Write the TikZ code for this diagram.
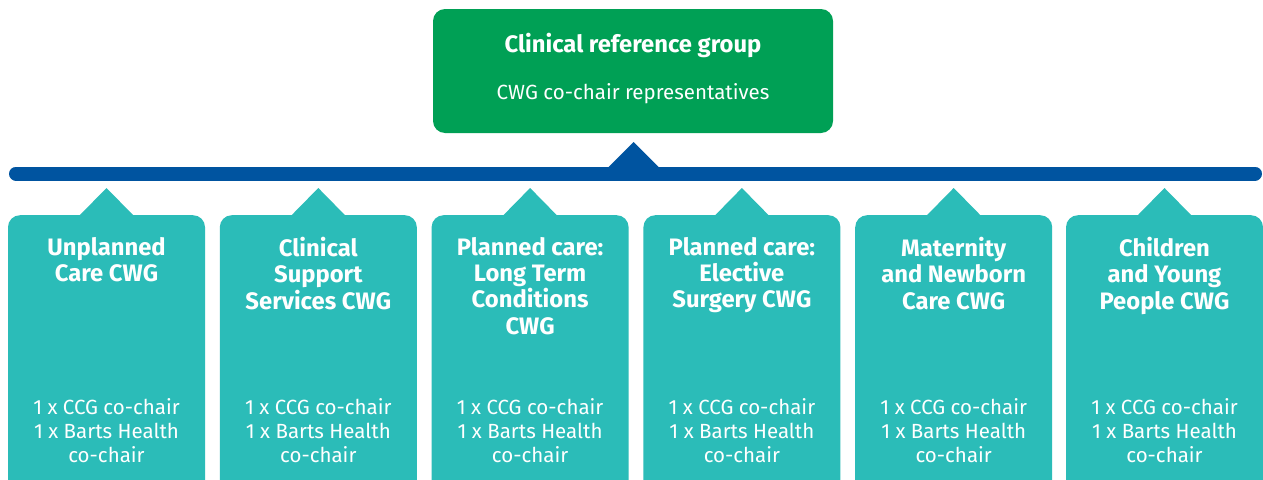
\documentclass[tikz,border=0pt]{standalone}
\usepackage{fontspec}
\setmainfont{Fira Sans}
\definecolor{crggreen}{HTML}{00A055}
\definecolor{barblue}{HTML}{0054A0}
\definecolor{cwgteal}{HTML}{2BBCB8}
\tikzset{
  crgbox/.style={fill=crggreen, rounded corners=12pt, minimum width=400pt, minimum height=124pt, inner sep=0pt},
  cwgbox/.style={fill=cwgteal, rounded corners=12pt, minimum width=197pt, minimum height=290pt, inner sep=0pt, anchor=north},
  ttl/.style={text=white, font=\bfseries\fontsize{23.8}{26.3}\selectfont, align=center, inner sep=0pt},
  body/.style={text=white, font=\fontsize{20.5}{24}\selectfont, align=center, inner sep=0pt},
  cwgtitle/.style={ttl, anchor=north},
  cwgbody/.style={body, anchor=south},
}
\begin{document}
\begin{tikzpicture}[x=1pt,y=-1pt]
\clip (0,0) rectangle (1263,479);
\fill[white] (0,0) rectangle (1263,479);
% top box
\node[crgbox] (crg) at (633,71) {};
\node[ttl] (crgt) at (633,45.5) {Clinical reference group};
\node[body] (crgs) at (633,94) {CWG co-chair representatives};
% bar
\coordinate (barL) at (16,173.5);
\coordinate (barR) at (1255,173.5);
\draw[barblue, line width=14pt, line cap=round] (barL) -- (barR);
\coordinate (apex) at (633.5,142);
\fill[barblue] (apex) -- ++(-25,25) -- ++(50,0) -- cycle;
% CWG boxes
\foreach \n/\x in {1/106.5, 2/318.3, 3/530.1, 4/741.9, 5/953.7, 6/1164.5}{
  \node[cwgbox] (cwg\n) at (\x,215) {};
  \coordinate (tip\n) at (\x,188);
  \fill[cwgteal] (tip\n) -- ++(-27,27.5) -- ++(54,0) -- cycle;
  \node[cwgbody] (body\n) at (\x,463) {1 x CCG co-chair\\1 x Barts Health\\co-chair};
}
\node[cwgtitle] (t1) at (cwg1.north |- 0,237) {Unplanned\\Care CWG};
\node[cwgtitle] (t2) at (cwg2.north |- 0,237) {Clinical\\Support\\Services CWG};
\node[cwgtitle] (t3) at (cwg3.north |- 0,237) {Planned care:\\Long Term\\Conditions\\CWG};
\node[cwgtitle] (t4) at (cwg4.north |- 0,237) {Planned care:\\Elective\\Surgery CWG};
\node[cwgtitle] (t5) at (cwg5.north |- 0,237) {Maternity\\and Newborn\\Care CWG};
\node[cwgtitle] (t6) at (cwg6.north |- 0,237) {Children\\and Young\\People CWG};
\end{tikzpicture}
\end{document}
